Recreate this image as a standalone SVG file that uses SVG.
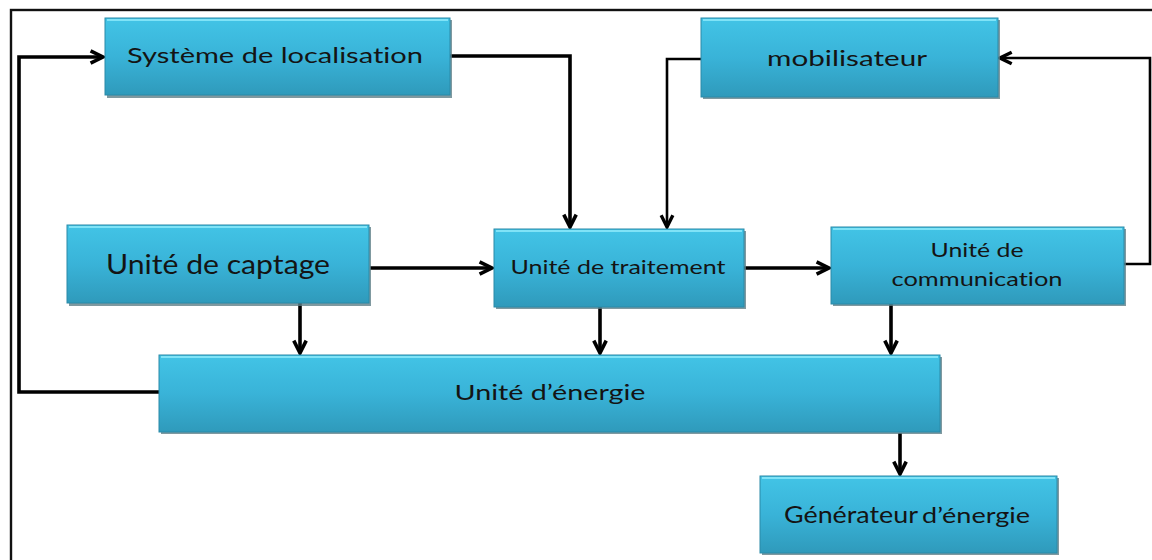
<svg xmlns="http://www.w3.org/2000/svg" width="1152" height="560" viewBox="0 0 1152 560">
  <style>
    .box { fill: url(#boxFill); stroke: #2a8aa8; stroke-width: 1; }
    .shadow { fill: #5f7f88; opacity: 0.8; }
    .hi { stroke: #7fe3f7; stroke-width: 2; }
    .lbl { font-family: Lato, "Open Sans", "Liberation Sans", sans-serif; fill: #141414; text-anchor: middle; font-variant-ligatures: none; }
    .start { text-anchor: start; }
    .wire { fill: none; stroke: #000; stroke-width: 3.6; stroke-linejoin: miter; }
    .thin { stroke-width: 2.6; }
    .frame { fill: none; stroke: #111; stroke-width: 2.4; }
  </style>
  <defs>
    <linearGradient id="boxFill" x1="0" y1="0" x2="0" y2="1">
      <stop offset="0" stop-color="#42c4e6"/>
      <stop offset="0.5" stop-color="#39b3d8"/>
      <stop offset="1" stop-color="#2f9abb"/>
    </linearGradient>
    <marker id="arr" viewBox="0 0 12 12" refX="10.5" refY="6" markerWidth="4.6" markerHeight="4.6" orient="auto" markerUnits="strokeWidth">
      <path d="M1.5,1.5 L10.5,6 L1.5,10.5" fill="none" stroke="#000" stroke-width="2.6"/>
    </marker>
    <marker id="arrT" viewBox="0 0 12 12" refX="10.5" refY="6" markerWidth="6" markerHeight="6" orient="auto" markerUnits="strokeWidth">
      <path d="M1.5,1.5 L10.5,6 L1.5,10.5" fill="none" stroke="#000" stroke-width="2.6"/>
    </marker>
  </defs>

  <rect width="1152" height="560" fill="#fff"/>
  <rect class="frame" x="11" y="10" width="1150" height="560"/>

  <!-- connectors -->
  <g id="connectors">
    <path class="wire" d="M159,392 H19 V57 H103" marker-end="url(#arr)"/>
    <path class="wire" d="M450,56 H570 V227" marker-end="url(#arr)"/>
    <path class="wire thin" d="M701,59 H667 V227" marker-end="url(#arrT)"/>
    <path class="wire" d="M370,268 H492" marker-end="url(#arr)"/>
    <path class="wire" d="M744,268 H829" marker-end="url(#arr)"/>
    <path class="wire thin" d="M1124,264 H1150 V58 H1000" marker-end="url(#arrT)"/>
    <path class="wire" d="M300,303 V353" marker-end="url(#arr)"/>
    <path class="wire" d="M600,307 V353" marker-end="url(#arr)"/>
    <path class="wire" d="M891,304 V353" marker-end="url(#arr)"/>
    <path class="wire" d="M900,433 V474" marker-end="url(#arr)"/>
  </g>

  <!-- nodes -->
  <g id="localisation">
    <rect class="shadow" x="107" y="20" width="345" height="78"/>
    <rect class="box" x="105" y="18" width="345" height="77"/>
    <line class="hi" x1="107" y1="20" x2="448" y2="20"/>
    <text class="lbl" x="275" y="63" font-size="22" textLength="296" lengthAdjust="spacingAndGlyphs">Système de localisation</text>
  </g>

  <g id="mobilisateur">
    <rect class="shadow" x="703" y="20" width="297" height="79"/>
    <rect class="box" x="701" y="18" width="297" height="79"/>
    <line class="hi" x1="703" y1="20" x2="996" y2="20"/>
    <text class="lbl" x="847" y="66" font-size="22" textLength="160" lengthAdjust="spacingAndGlyphs">mobilisateur</text>
  </g>

  <g id="captage">
    <rect class="shadow" x="69" y="227" width="302" height="79"/>
    <rect class="box" x="67" y="225" width="302" height="78"/>
    <line class="hi" x1="69" y1="227" x2="367" y2="227"/>
    <text class="lbl" x="218" y="274" font-size="26" textLength="224" lengthAdjust="spacingAndGlyphs">Unité de captage</text>
  </g>

  <g id="traitement">
    <rect class="shadow" x="496" y="231" width="250" height="78"/>
    <rect class="box" x="494" y="229" width="250" height="78"/>
    <line class="hi" x1="496" y1="231" x2="742" y2="231"/>
    <text class="lbl" x="618" y="274" font-size="19" textLength="215" lengthAdjust="spacingAndGlyphs">Unité de traitement</text>
  </g>

  <g id="communication">
    <rect class="shadow" x="833" y="229" width="293" height="77"/>
    <rect class="box" x="831" y="227" width="293" height="77"/>
    <line class="hi" x1="833" y1="229" x2="1122" y2="229"/>
    <text class="lbl" x="977" y="257" font-size="19" textLength="93" lengthAdjust="spacingAndGlyphs">Unité de</text>
    <text class="lbl" x="977" y="286" font-size="19" textLength="171" lengthAdjust="spacingAndGlyphs">communication</text>
  </g>

  <g id="energie">
    <rect class="shadow" x="161" y="357" width="781" height="77"/>
    <rect class="box" x="159" y="355" width="781" height="77"/>
    <line class="hi" x1="161" y1="357" x2="938" y2="357"/>
    <text class="lbl" x="550" y="400" font-size="21" textLength="191" lengthAdjust="spacingAndGlyphs">Unité d’énergie</text>
  </g>

  <g id="generateur">
    <rect class="shadow" x="762" y="478" width="297" height="77"/>
    <rect class="box" x="760" y="476" width="297" height="77"/>
    <line class="hi" x1="762" y1="478" x2="1055" y2="478"/>
    <text class="lbl start" x="784" y="523" font-size="23" textLength="134" lengthAdjust="spacingAndGlyphs">Générateur</text>
    <text class="lbl start" x="922" y="523" font-size="21" textLength="108" lengthAdjust="spacingAndGlyphs">d’énergie</text>
  </g>
</svg>
